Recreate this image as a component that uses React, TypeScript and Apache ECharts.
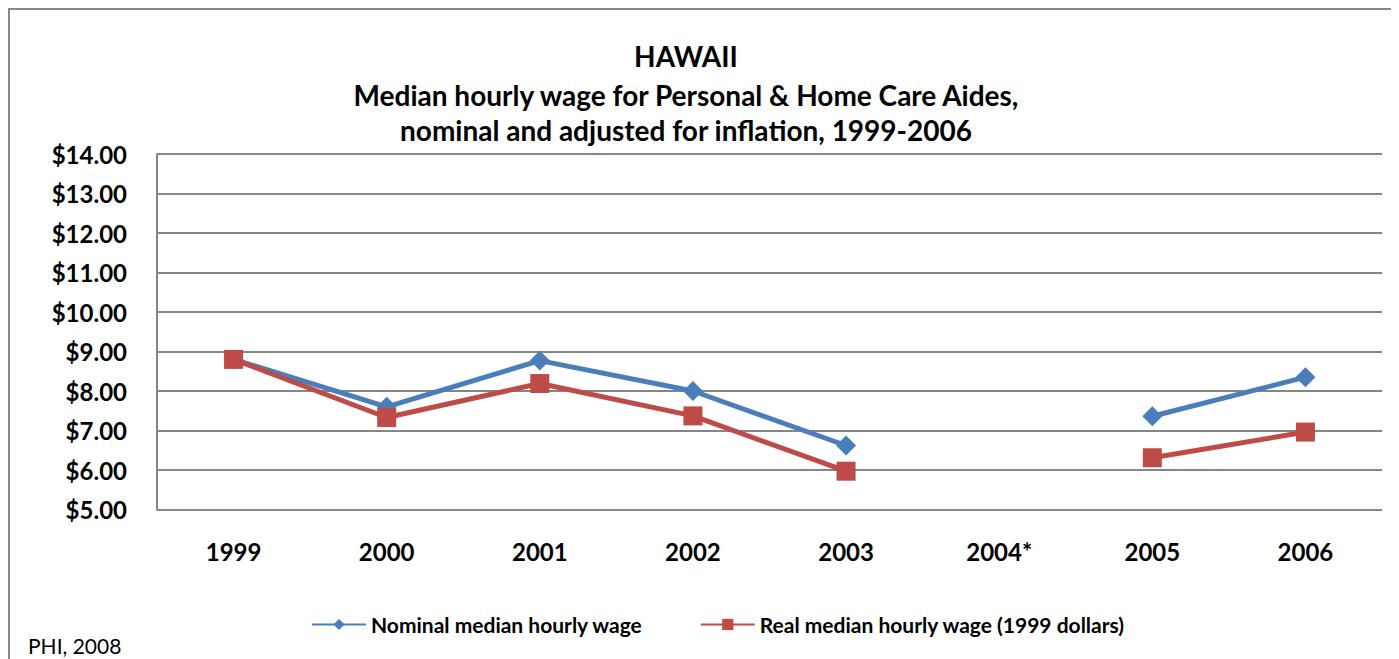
import React, { useEffect, useRef } from "react";
import * as echarts from "echarts";

const categories = ["1999", "2000", "2001", "2002", "2003", "2004*", "2005", "2006"];
const nominalWage = [8.8, 7.6, 8.77, 8.0, 6.62, null, 7.36, 8.35];
const realWage = [8.8, 7.33, 8.19, 7.37, 5.97, null, 6.31, 6.96];
const titleLines = [
  "HAWAII",
  "Median hourly wage for Personal & Home Care Aides,",
  "nominal and adjusted for inflation, 1999-2006",
];
const seriesNames = ["Nominal median hourly wage", "Real median hourly wage (1999 dollars)"];
const sourceNote = "PHI, 2008";

const FONT = "Lato";

export default function App() {
  const ref = useRef<HTMLDivElement>(null);
  useEffect(() => {
    if (!ref.current) return;
    const chart = echarts.init(ref.current, undefined, { renderer: "svg" });
    chart.setOption({
      animation: false,
      backgroundColor: "#ffffff",
      textStyle: { fontFamily: FONT },
      graphic: [
        {
          type: "rect",
          shape: { x: 1, y: 1, width: 3000, height: 3000 },
          style: { fill: "none", stroke: "#888888", lineWidth: 2 },
          silent: true,
        },
        ...titleLines.map((t, i) => ({
          type: "text",
          x: 678,
          y: [48, 87, 122][i],
          style: {
            text: t,
            fontFamily: FONT,
            fontWeight: "bold",
            fontSize: 28,
            fill: "#000",
            align: "center",
            verticalAlign: "middle",
          },
        })),
        {
          type: "text",
          x: 20,
          y: 637,
          style: {
            text: sourceNote,
            fontFamily: FONT,
            fontSize: 21,
            fill: "#000",
            align: "left",
            verticalAlign: "middle",
          },
        },
      ],
      legend: {
        top: 601,
        left: 298,
        itemGap: 57,
        itemWidth: 54,
        itemHeight: 14,
        textStyle: { fontFamily: FONT, fontWeight: "bold", fontSize: 21, color: "#000" },
        data: seriesNames,
      },
      grid: { left: 149, right: 17, top: 146, bottom: 149.5 },
      xAxis: {
        type: "category",
        data: categories,
        boundaryGap: true,
        axisLine: { show: false },
        axisTick: { show: false },
        axisLabel: {
          fontFamily: FONT,
          fontWeight: "bold",
          fontSize: 24,
          color: "#000",
          margin: 30,
        },
      },
      yAxis: {
        type: "value",
        min: 5,
        max: 14,
        interval: 1,
        axisLine: { show: true, lineStyle: { color: "#868686", width: 2 } },
        axisTick: { show: false },
        splitLine: { lineStyle: { color: "#868686", width: 2 } },
        axisLabel: {
          fontFamily: FONT,
          fontWeight: "bold",
          fontSize: 24,
          color: "#000",
          margin: 30,
          formatter: (v: number) => "$" + v.toFixed(2),
        },
      },
      series: [
        {
          name: seriesNames[0],
          type: "line",
          data: nominalWage,
          connectNulls: false,
          symbol: "diamond",
          symbolSize: 20,
          lineStyle: { color: "#4A7EBB", width: 5 },
          itemStyle: { color: "#4A7EBB" },
        },
        {
          name: seriesNames[1],
          type: "line",
          data: realWage,
          connectNulls: false,
          symbol: "rect",
          symbolSize: 19,
          lineStyle: { color: "#BE4B48", width: 5 },
          itemStyle: { color: "#BE4B48" },
        },
      ],
    });
    return () => chart.dispose();
  }, []);
  return <div ref={ref} style={{ width: 1391, height: 651 }} />;
}
